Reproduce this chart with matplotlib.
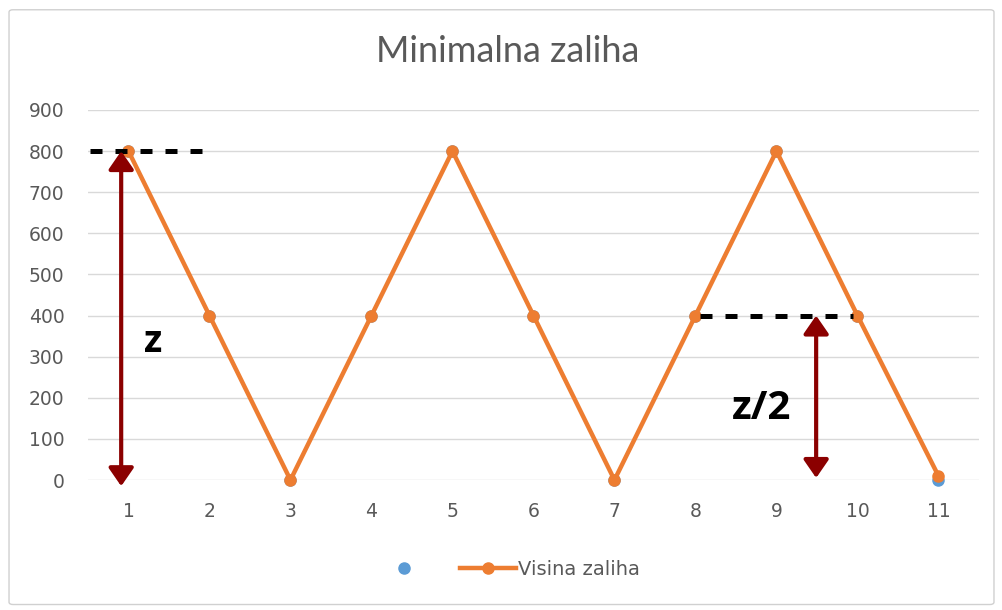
"""Minimalna zaliha - sawtooth stock level chart with annotations."""

import matplotlib

matplotlib.use("Agg")

import matplotlib.pyplot as plt
from matplotlib.lines import Line2D
from matplotlib.patches import FancyBboxPatch

periods = [1, 2, 3, 4, 5, 6, 7, 8, 9, 10, 11]
visina_zaliha = [800, 400, 0, 400, 800, 400, 0, 400, 800, 400, 10]
hidden_series = [800, 400, 0, 400, 800, 400, 0, 400, 800, 400, 0]
y_ticks = [0, 100, 200, 300, 400, 500, 600, 700, 800, 900]

ORANGE = "#ED7D31"
BLUE = "#5B9BD5"
DARK_RED = "#8B0000"
GRID = "#D9D9D9"
TEXT = "#595959"

fig = plt.figure(figsize=(10.02, 6.10), dpi=100)
border = FancyBboxPatch(
    (0.009, 0.009), 0.983, 0.975,
    boxstyle="round,pad=0,rounding_size=0.004",
    transform=fig.transFigure, facecolor="none", edgecolor="#D0D0D0", linewidth=1.0,
    zorder=-1,
)
fig.patches.append(border)

ax = fig.add_axes([0.0878, 0.2131, 0.8892, 0.6066])
ax.set_facecolor("none")

ax.plot(periods, hidden_series, linestyle="none", marker="o", markersize=8,
        color=BLUE, zorder=3, clip_on=False)
ax.plot(periods, visina_zaliha, color=ORANGE, linewidth=3.2, marker="o",
        markersize=8, zorder=4, clip_on=False)

ax.set_xlim(0.5, 11.5)
ax.set_ylim(0, 900)
ax.set_yticks(y_ticks)
ax.set_xticks(periods)
ax.grid(axis="y", color=GRID, linewidth=1.0)
ax.set_axisbelow(True)
for spine in ax.spines.values():
    spine.set_visible(False)
ax.tick_params(length=0, labelsize=13.5, labelcolor=TEXT)
ax.tick_params(axis="x", pad=16)
ax.tick_params(axis="y", pad=17)

fig.text(0.507, 0.915, "Minimalna zaliha", fontsize=26, color=TEXT, family="Lato",
         ha="center", va="center")

# dashed reference lines
dash = (0, (2.4, 2.6))
ax.plot([0.52, 1.92], [800, 800], color="black", linestyle=dash, linewidth=3.6,
        zorder=5)
ax.plot([8.05, 9.95], [400, 400], color="black", linestyle=dash, linewidth=3.6,
        zorder=5)

# double-headed arrows
arrow_style = dict(arrowstyle="<|-|>,head_length=0.55,head_width=0.38",
                   mutation_scale=20, color=DARK_RED, linewidth=3.0,
                   shrinkA=0, shrinkB=0)
ax.annotate("", xy=(0.91, 800), xytext=(0.91, -15), arrowprops=arrow_style,
            annotation_clip=False, zorder=6)
ax.annotate("", xy=(9.49, 400), xytext=(9.49, 5), arrowprops=arrow_style,
            annotation_clip=False, zorder=6)

ax.text(1.31, 335, "z", fontsize=27, fontweight="bold", ha="center", va="center",
        family="Open Sans")
ax.text(8.82, 175, "z/2", fontsize=29, fontweight="bold", ha="center", va="center",
        family="Open Sans")

handles = [
    Line2D([], [], linestyle="none", marker="o", markersize=8, color=BLUE),
    Line2D([], [], color=ORANGE, linewidth=3.2, marker="o", markersize=8),
]
fig.legend(handles, [" ", "Visina zaliha"], loc="center", bbox_to_anchor=(0.507, 0.066),
           ncol=2, frameon=False, fontsize=14, labelcolor=TEXT, handlelength=2.9,
           columnspacing=1.0, handletextpad=0.1, borderpad=0, borderaxespad=0)

fig.savefig("out.png", dpi=100)
